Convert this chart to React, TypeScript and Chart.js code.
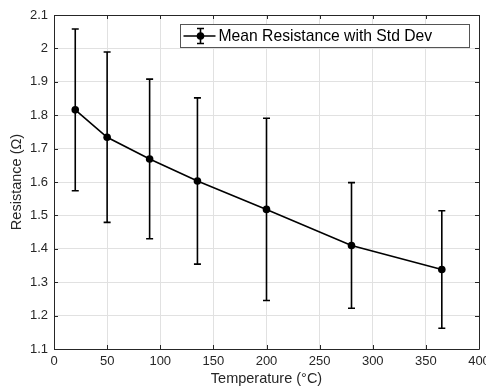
import { useEffect, useRef } from 'react';
import { Chart, registerables } from 'chart.js';

Chart.register(...registerables);

// ---- data ----
const temperatures = [20, 50, 90, 135, 200, 280, 365];
const meanResistance = [1.816, 1.734, 1.669, 1.603, 1.518, 1.41, 1.338];
const stdDev = [0.242, 0.255, 0.239, 0.249, 0.273, 0.188, 0.176];
const xTicks = [0, 50, 100, 150, 200, 250, 300, 350, 400];
const yTicks = [1.1, 1.2, 1.3, 1.4, 1.5, 1.6, 1.7, 1.8, 1.9, 2.0, 2.1];
const seriesLabel = 'Mean Resistance with Std Dev';
const xTitle = 'Temperature (°C)';
const yTitle = 'Resistance (Ω)';

const FONT = '"Liberation Sans", Arial, Helvetica, sans-serif';
const AXIS_COLOR = '#262626';
const GRID_COLOR = '#e1e1e1';

const errorBarPlugin = {
  id: 'errorBars',
  beforeDatasetsDraw(chart: any) {
    const { ctx, scales } = chart;
    const x = scales.x;
    const y = scales.y;
    ctx.save();
    ctx.strokeStyle = '#000';
    ctx.lineWidth = 1.6;
    const cap = 3.5;
    temperatures.forEach((t, i) => {
      const px = x.getPixelForValue(t);
      const pTop = y.getPixelForValue(meanResistance[i] + stdDev[i]);
      const pBot = y.getPixelForValue(meanResistance[i] - stdDev[i]);
      ctx.beginPath();
      ctx.moveTo(px, pTop);
      ctx.lineTo(px, pBot);
      ctx.moveTo(px - cap, pTop);
      ctx.lineTo(px + cap, pTop);
      ctx.moveTo(px - cap, pBot);
      ctx.lineTo(px + cap, pBot);
      ctx.stroke();
    });
    ctx.restore();
  },
};

const framePlugin = {
  id: 'frame',
  beforeDatasetsDraw(chart: any) {
    const { ctx, chartArea, scales } = chart;
    const { left, right, top, bottom } = chartArea;
    const tl = 4;
    ctx.save();
    ctx.strokeStyle = AXIS_COLOR;
    ctx.lineWidth = 1;
    ctx.beginPath();
    xTicks.forEach((v) => {
      const px = Math.round(scales.x.getPixelForValue(v)) + 0.5;
      ctx.moveTo(px, bottom);
      ctx.lineTo(px, bottom - tl);
      ctx.moveTo(px, top);
      ctx.lineTo(px, top + tl);
    });
    yTicks.forEach((v) => {
      const py = Math.round(scales.y.getPixelForValue(v)) + 0.5;
      ctx.moveTo(left, py);
      ctx.lineTo(left + tl, py);
      ctx.moveTo(right, py);
      ctx.lineTo(right - tl, py);
    });
    ctx.stroke();
    ctx.beginPath();
    ctx.rect(Math.round(left) + 0.5, Math.round(top) + 0.5, Math.round(right - left), Math.round(bottom - top));
    ctx.stroke();
    ctx.restore();
  },
};

const legendPlugin = {
  id: 'customLegend',
  afterDraw(chart: any) {
    const { ctx, chartArea } = chart;
    const bx = Math.round(chartArea.left + 126) + 0.5;
    const by = Math.round(chartArea.top + 8.5) + 0.5;
    const bw = Math.round(chartArea.right - 10 - bx);
    const bh = 23;
    ctx.save();
    ctx.fillStyle = '#fff';
    ctx.fillRect(bx, by, bw, bh);
    ctx.strokeStyle = '#555';
    ctx.lineWidth = 1;
    ctx.strokeRect(bx, by, bw, bh);
    const cy = by + bh / 2;
    // sample line
    ctx.strokeStyle = '#000';
    ctx.lineWidth = 1.6;
    ctx.beginPath();
    ctx.moveTo(bx + 3, cy);
    ctx.lineTo(bx + 35, cy);
    const mx = bx + 20;
    ctx.moveTo(mx, cy - 7.5);
    ctx.lineTo(mx, cy + 7.5);
    ctx.moveTo(mx - 3.5, cy - 7.5);
    ctx.lineTo(mx + 3.5, cy - 7.5);
    ctx.moveTo(mx - 3.5, cy + 7.5);
    ctx.lineTo(mx + 3.5, cy + 7.5);
    ctx.stroke();
    ctx.fillStyle = '#000';
    ctx.beginPath();
    ctx.arc(mx, cy, 3.8, 0, Math.PI * 2);
    ctx.fill();
    ctx.font = `15.7px ${FONT}`;
    ctx.textAlign = 'left';
    ctx.textBaseline = 'middle';
    ctx.fillStyle = '#000';
    ctx.fillText(seriesLabel, bx + 38, cy + 0.5);
    ctx.restore();
  },
};

export default function App() {
  const canvasRef = useRef<HTMLCanvasElement | null>(null);

  useEffect(() => {
    const canvas = canvasRef.current;
    if (!canvas) return;
    const chart = new Chart(canvas, {
      type: 'scatter',
      data: {
        datasets: [
          {
            label: seriesLabel,
            data: temperatures.map((t, i) => ({ x: t, y: meanResistance[i] })),
            showLine: true,
            borderColor: '#000',
            backgroundColor: '#000',
            borderWidth: 1.6,
            pointRadius: 3.8,
            pointHoverRadius: 3.8,
            pointBackgroundColor: '#000',
            pointBorderColor: '#000',
            pointBorderWidth: 0,
          },
        ],
      },
      options: {
        responsive: false,
        animation: false,
        devicePixelRatio: 1,
        layout: { padding: { left: 0, right: 7, top: 15, bottom: 0 } },
        plugins: {
          legend: { display: false },
          tooltip: { enabled: false },
        },
        scales: {
          x: {
            type: 'linear',
            min: 0,
            max: 400,
            afterBuildTicks: (scale: any) => {
              scale.ticks = xTicks.map((v) => ({ value: v }));
            },
            afterFit: (scale: any) => {
              scale.height = 43;
              scale.paddingLeft = 0;
              scale.paddingRight = 0;
            },
            grid: { color: GRID_COLOR, drawTicks: false, lineWidth: 1 },
            border: { display: false },
            ticks: {
              padding: 5,
              color: AXIS_COLOR,
              font: { family: FONT, size: 13 },
              maxRotation: 0,
              autoSkip: false,
              callback: (v: any) => String(v),
            },
            title: {
              display: true,
              text: xTitle,
              color: AXIS_COLOR,
              font: { family: FONT, size: 14.5 },
              padding: { top: 0, bottom: 4 },
            },
          },
          y: {
            type: 'linear',
            min: 1.1,
            max: 2.1,
            afterBuildTicks: (scale: any) => {
              scale.ticks = yTicks.map((v) => ({ value: v }));
            },
            afterFit: (scale: any) => {
              scale.width = 54;
              scale.paddingTop = 0;
              scale.paddingBottom = 0;
            },
            grid: { color: GRID_COLOR, drawTicks: false, lineWidth: 1 },
            border: { display: false },
            ticks: {
              padding: 6,
              color: AXIS_COLOR,
              font: { family: FONT, size: 13 },
              autoSkip: false,
              callback: (v: any) => String(Math.round(Number(v) * 10) / 10),
            },
            title: {
              display: true,
              text: yTitle,
              color: AXIS_COLOR,
              font: { family: FONT, size: 14.5 },
              padding: { top: 8.5, bottom: 0 },
            },
          },
        },
      },
      plugins: [framePlugin, errorBarPlugin, legendPlugin],
    });
    return () => chart.destroy();
  }, []);

  return (
    <div style={{ position: 'absolute', left: 0, top: 0, width: 486, height: 392, background: '#fff' }}>
      <canvas ref={canvasRef} width={486} height={392} style={{ display: 'block' }} />
    </div>
  );
}
